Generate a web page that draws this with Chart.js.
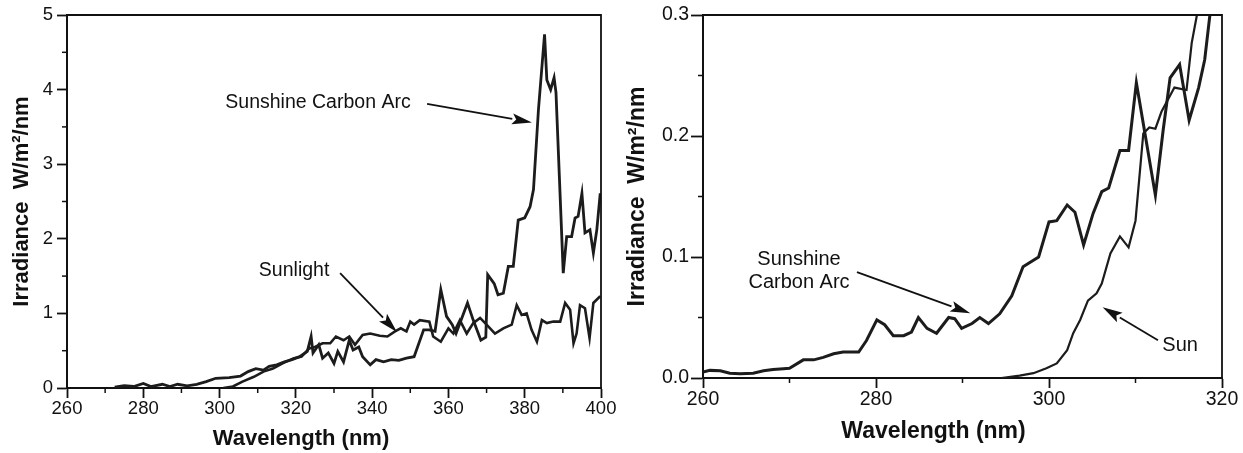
<!DOCTYPE html>
<html>
<head>
<meta charset="utf-8">
<script src="https://cdn.jsdelivr.net/npm/chart.js@4.4.1/dist/chart.umd.min.js"></script>
<style>
  html, body { margin: 0; padding: 0; background: #fff; }
  #wrap  { position: relative; width: 1243px; height: 453px; }
  .panel { position: absolute; top: 0; height: 453px; }
  #left  { left: 0;     width: 620px; }
  #right { left: 620px; width: 623px; }
</style>
</head>
<body>
<div id="wrap">
  <div class="panel" id="left"><canvas id="fullChart"></canvas></div>
  <div class="panel" id="right"><canvas id="uvChart"></canvas></div>
</div>
<script>
// ── Data ────────────────────────────────────────────────────────────────────

// Left panel: 260-400 nm
const FULL_ARC_NM = [272.5, 275, 277.5, 280, 282, 285, 287, 289, 291.5, 294, 296.5, 299, 302.5, 305.5, 307.5, 309.5, 311.5, 313, 315, 317, 319, 321, 323, 324, 324.5, 326, 327, 328.5, 330, 331, 332.5, 334, 335, 336.5, 337.5, 339.5, 341, 343, 345, 347, 349, 351, 353.5, 355, 356.5, 358, 359.5, 361, 362, 365, 366.5, 368.5, 369.8, 370.3, 372, 373, 374.4, 375.7, 377, 378.3, 380, 381.4, 382.3, 383.6, 385.2, 385.8, 386.8, 387.7, 388.2, 390.1, 391, 392.3, 393.2, 394, 395, 395.8, 397.1, 398, 398.9, 399.8];
const FULL_ARC_W  = [0.01, 0.03, 0.02, 0.06, 0.02, 0.05, 0.02, 0.05, 0.03, 0.05, 0.085, 0.13, 0.14, 0.16, 0.22, 0.26, 0.24, 0.29, 0.31, 0.35, 0.38, 0.42, 0.49, 0.69, 0.47, 0.58, 0.40, 0.47, 0.33, 0.49, 0.35, 0.64, 0.51, 0.55, 0.42, 0.31, 0.38, 0.35, 0.38, 0.37, 0.40, 0.42, 0.78, 0.78, 0.76, 1.32, 0.96, 0.85, 0.73, 1.14, 0.91, 0.64, 0.68, 1.52, 1.40, 1.25, 1.27, 1.63, 1.63, 2.25, 2.28, 2.43, 2.66, 3.73, 4.74, 4.13, 4.00, 4.16, 3.96, 1.54, 2.03, 2.03, 2.28, 2.30, 2.61, 2.08, 2.12, 1.81, 2.12, 2.61];

const FULL_SUN_NM = [301, 303.5, 306, 309, 311.5, 314, 316.5, 319.5, 321.5, 323.5, 325, 327, 329, 330.5, 332.5, 334, 335.5, 337.5, 339.5, 342, 344, 346, 347.5, 349, 350, 351, 352.5, 355, 356, 358, 360, 361.3, 363, 364.8, 366.5, 368.3, 370, 372.2, 374.4, 376.6, 377.9, 379.2, 380.5, 381.8, 383.2, 384.5, 385.8, 387.5, 389.3, 390.6, 391.9, 392.8, 393.6, 394.5, 395.8, 397, 398, 399.8];
const FULL_SUN_W  = [0, 0.02, 0.085, 0.15, 0.22, 0.26, 0.33, 0.40, 0.42, 0.53, 0.55, 0.60, 0.60, 0.69, 0.64, 0.69, 0.58, 0.71, 0.73, 0.70, 0.69, 0.76, 0.80, 0.76, 0.89, 0.85, 0.91, 0.89, 0.69, 0.62, 0.80, 0.73, 0.91, 0.73, 0.87, 0.94, 0.85, 0.73, 0.80, 0.85, 1.11, 0.98, 1.00, 0.78, 0.62, 0.91, 0.87, 0.89, 0.89, 1.14, 1.05, 0.60, 0.73, 1.11, 1.07, 0.67, 1.14, 1.23];

// Right panel: UV detail 260-320 nm
const UV_ARC_NM = [260, 260.8, 262, 263.1, 264.3, 265.8, 267, 268.1, 269.3, 270, 271.6, 272.8, 273.9, 275.1, 276.2, 278, 278.9, 280.1, 281, 282, 283.2, 284.1, 284.9, 285.9, 287, 288.4, 289.1, 289.9, 291.1, 292, 293, 294.3, 295.7, 297, 298.8, 300, 300.9, 302.1, 303, 304, 305.1, 306.1, 306.9, 308.2, 309.2, 310.1, 312.3, 313.2, 314, 315.1, 316.2, 317.3, 318, 318.6, 319.2];
const UV_ARC_W  = [0.005, 0.0063, 0.006, 0.004, 0.0036, 0.004, 0.006, 0.007, 0.0077, 0.008, 0.015, 0.015, 0.017, 0.020, 0.0215, 0.0215, 0.031, 0.048, 0.044, 0.035, 0.035, 0.038, 0.050, 0.041, 0.037, 0.050, 0.049, 0.041, 0.045, 0.050, 0.045, 0.053, 0.068, 0.092, 0.100, 0.129, 0.130, 0.143, 0.137, 0.110, 0.136, 0.154, 0.157, 0.188, 0.188, 0.244, 0.151, 0.205, 0.248, 0.259, 0.213, 0.240, 0.263, 0.300, 0.340];

const UV_SUN_NM = [294.5, 296.6, 298.2, 299.7, 300.9, 302.1, 302.8, 303.6, 304.5, 305.5, 306.1, 307.1, 308.2, 309.2, 310, 310.9, 311.6, 312.3, 313, 314.5, 315.9, 316.5, 317.1, 317.6];
const UV_SUN_W  = [0, 0.002, 0.004, 0.008, 0.012, 0.023, 0.037, 0.048, 0.064, 0.070, 0.078, 0.103, 0.117, 0.108, 0.130, 0.202, 0.207, 0.206, 0.220, 0.240, 0.238, 0.277, 0.300, 0.340];

// Axis ranges
const FULL_X = [260, 400], FULL_Y = [0, 5];
const UV_X   = [260, 320], UV_Y   = [0, 0.3];

const pts = (xs, ys) => xs.map((x, i) => ({ x, y: ys[i] }));

// ── Style ───────────────────────────────────────────────────────────────────
const INK  = '#111';
const FONT = "'Liberation Sans', Arial, Helvetica, sans-serif";

// Draws the closed frame, minor ticks, x-axis title and the callout labels/arrows
const figureMarks = {
  id: 'figureMarks',
  afterDraw(chart, args, o) {
    const { ctx, chartArea: a, scales: { x, y } } = chart;
    ctx.save();
    ctx.strokeStyle = INK;
    ctx.fillStyle = INK;

    // top + right frame
    ctx.lineWidth = o.frameWidth;
    ctx.beginPath();
    ctx.moveTo(a.left, a.top);
    ctx.lineTo(a.right, a.top);
    ctx.lineTo(a.right, a.bottom);
    ctx.stroke();

    // minor ticks (half of the major step)
    ctx.lineWidth = 1.5;
    const nx = Math.round((x.max - x.min) / o.xMinor);
    for (let i = 1; i < nx; i += 2) {
      const px = x.getPixelForValue(x.min + i * o.xMinor);
      ctx.beginPath(); ctx.moveTo(px, a.bottom); ctx.lineTo(px, a.bottom + 5); ctx.stroke();
    }
    const ny = Math.round((y.max - y.min) / o.yMinor);
    for (let i = 1; i < ny; i += 2) {
      const py = y.getPixelForValue(y.min + i * o.yMinor);
      ctx.beginPath(); ctx.moveTo(a.left - 5, py); ctx.lineTo(a.left, py); ctx.stroke();
    }

    // x axis title
    ctx.font = `bold ${o.titleSize}px ${FONT}`;
    ctx.textAlign = 'center';
    ctx.textBaseline = 'middle';
    ctx.fillText(o.xTitle, (a.left + a.right) / 2 + o.xTitleDx, o.xTitleY);

    // callout labels
    ctx.font = `${o.noteSize}px ${FONT}`;
    o.notes.forEach(n => {
      ctx.textAlign = n.align;
      ctx.fillText(n.text, x.getPixelForValue(n.at[0]), y.getPixelForValue(n.at[1]));
    });

    // arrows
    o.arrows.forEach(ar => {
      const x0 = x.getPixelForValue(ar.from[0]), y0 = y.getPixelForValue(ar.from[1]);
      const x1 = x.getPixelForValue(ar.to[0]),   y1 = y.getPixelForValue(ar.to[1]);
      const ang = Math.atan2(y1 - y0, x1 - x0);
      const len = 20, half = 5.5;
      const bx = x1 - len * Math.cos(ang), by = y1 - len * Math.sin(ang);
      ctx.lineWidth = 1.8;
      ctx.beginPath(); ctx.moveTo(x0, y0); ctx.lineTo(bx, by); ctx.stroke();
      ctx.beginPath();
      ctx.moveTo(x1, y1);
      ctx.lineTo(bx + half * Math.sin(ang), by - half * Math.cos(ang));
      ctx.lineTo(bx + 4 * Math.cos(ang), by + 4 * Math.sin(ang));
      ctx.lineTo(bx - half * Math.sin(ang), by + half * Math.cos(ang));
      ctx.closePath();
      ctx.fill();
    });
    ctx.restore();
  },
};

function makeChart(canvasId, cfg) {
  const ctx = document.getElementById(canvasId).getContext('2d');
  return new Chart(ctx, {
    type: 'line',
    data: {
      datasets: cfg.series.map(s => ({
        label:       s.label,
        data:        s.data,
        borderColor: '#1c1c1c',
        borderWidth: s.width,
        pointRadius: 0,
        tension:     0,
        fill:        false,
      })),
    },
    options: {
      responsive:          true,
      maintainAspectRatio: false,
      animation:           false,
      layout: { padding: cfg.padding },
      scales: {
        x: {
          type: 'linear',
          min: cfg.xRange[0], max: cfg.xRange[1],
          afterFit(scale) { scale.height = cfg.xAxisHeight; },
          grid:   { display: true, drawOnChartArea: false, drawTicks: true, tickLength: 10, tickColor: INK, tickWidth: 1.8 },
          border: { display: true, color: INK, width: 2 },
          ticks:  { stepSize: cfg.xStep, color: INK, padding: cfg.xTickPad, maxRotation: 0,
                    font: { family: FONT, size: cfg.tickSize, lineHeight: 1 } },
        },
        y: {
          min: cfg.yRange[0], max: cfg.yRange[1],
          afterFit(scale) { scale.width = cfg.yAxisWidth; },
          grid:   { display: true, drawOnChartArea: false, drawTicks: true, tickLength: cfg.yTickLen, tickColor: INK, tickWidth: 1.8 },
          border: { display: true, color: INK, width: 2 },
          ticks:  { stepSize: cfg.yStep, color: INK, padding: cfg.yTickPad,
                    callback: cfg.yFormat,
                    font: { family: FONT, size: cfg.tickSize, lineHeight: 1 } },
          title:  { display: true, text: 'Irradiance  W/m²/nm', color: INK,
                    padding: { top: cfg.yTitlePad, bottom: 0 },
                    font: { family: FONT, size: cfg.titleSize, weight: 'bold', lineHeight: 1.2 } },
        },
      },
      plugins: {
        legend:  { display: false },
        tooltip: { enabled: false },
        figureMarks: {
          frameWidth: 1.8,
          xMinor: cfg.xStep / 2,
          yMinor: cfg.yStep / 2,
          xTitle: 'Wavelength (nm)',
          xTitleDx: cfg.xTitleDx,
          xTitleY: cfg.xTitleY,
          titleSize: cfg.titleSize,
          noteSize: cfg.noteSize,
          notes: cfg.notes,
          arrows: cfg.arrows,
        },
      },
    },
    plugins: [figureMarks],
  });
}

makeChart('fullChart', {
  series: [
    { label: 'Sunshine Carbon Arc', data: pts(FULL_ARC_NM, FULL_ARC_W), width: 2.8 },
    { label: 'Sunlight',            data: pts(FULL_SUN_NM, FULL_SUN_W), width: 2.6 },
  ],
  xRange: FULL_X, yRange: FULL_Y, xStep: 20, yStep: 1,
  yFormat: v => String(v),
  padding: { top: 15, right: 19, left: 0, bottom: 0 },
  xAxisHeight: 65, yAxisWidth: 67,
  yTickLen: 10, yTickPad: 4, xTickPad: 2,
  tickSize: 18.5, titleSize: 22, noteSize: 19.5, yTitlePad: 9,
  xTitleDx: -33, xTitleY: 439,
  notes: [
    { text: 'Sunshine Carbon Arc', at: [301.5, 3.82], align: 'left' },
    { text: 'Sunlight',            at: [310.3, 1.58], align: 'left' },
  ],
  arrows: [
    { from: [354.4, 3.81], to: [381.9, 3.56] },
    { from: [331.6, 1.54], to: [346.5, 0.75] },
  ],
});

makeChart('uvChart', {
  series: [
    { label: 'Sunshine Carbon Arc', data: pts(UV_ARC_NM, UV_ARC_W), width: 3 },
    { label: 'Sun',                 data: pts(UV_SUN_NM, UV_SUN_W), width: 2.2 },
  ],
  xRange: UV_X, yRange: UV_Y, xStep: 20, yStep: 0.1,
  yFormat: v => v.toFixed(1),
  padding: { top: 15, right: 21, left: 0, bottom: 0 },
  xAxisHeight: 75, yAxisWidth: 83,
  yTickLen: 12, yTickPad: 2, xTickPad: 2,
  tickSize: 19.5, titleSize: 23, noteSize: 20, yTitlePad: 4,
  xTitleDx: -29, xTitleY: 432,
  notes: [
    { text: 'Sunshine',   at: [271.1, 0.0983], align: 'center' },
    { text: 'Carbon Arc', at: [271.1, 0.0792], align: 'center' },
    { text: 'Sun',        at: [313.1, 0.0271], align: 'left' },
  ],
  arrows: [
    { from: [277.8, 0.0875], to: [290.9, 0.0536] },
    { from: [312.6, 0.0312], to: [306.2, 0.0585] },
  ],
});
</script>
</body>
</html>
